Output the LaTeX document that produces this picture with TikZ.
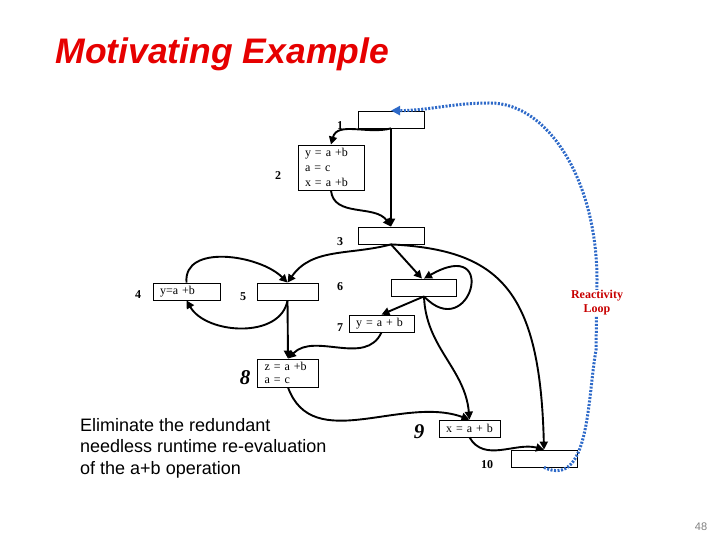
\documentclass[tikz,border=0pt]{standalone}
\usepackage{fontspec}
\setmainfont{Liberation Serif}
\setsansfont{Liberation Sans}
\usetikzlibrary{arrows.meta}
\definecolor{titlered}{RGB}{230,0,0}
\definecolor{loopblue}{RGB}{45,105,200}
\definecolor{loopred}{RGB}{200,0,0}

\begin{document}
\begin{tikzpicture}[x=1pt, y=1pt,
	box/.style={draw, line width=0.8pt, fill=white, minimum height=17pt, inner xsep=7pt, inner ysep=1pt, align=left, font=\fontsize{12}{15}\selectfont},
	num/.style={font=\fontsize{12}{14}\selectfont\bfseries},
	bignum/.style={font=\fontsize{21}{21}\selectfont\bfseries\itshape},
	flow/.style={line width=1.9pt, -{Triangle[length=8pt,width=8pt]}},
	react/.style={draw=loopblue, line width=3pt, dash pattern=on 2pt off 1.5pt, -{Triangle[length=9pt,width=9pt]}}]
	\useasboundingbox (0,0) rectangle (720,540);

	% Titolo e testo
	\node (title) at (52,486) [anchor=west, text=titlered, font=\sffamily\bfseries\itshape\fontsize{35.5}{36}\selectfont] {Motivating Example};
	\node (note) at (80,122) [anchor=north west, inner sep=0pt, align=left, font=\sffamily\fontsize{18}{21.5}\selectfont] {Eliminate the redundant\\needless runtime re-evaluation\\of the a+b operation};
	\node (page) at (701,13) [text=gray, font=\sffamily\fontsize{11}{11}\selectfont] {48};

	% Blocchi
	\node (b1) at (391,420.5) [box, minimum width=66pt] {};
	\node (b2) at (331,372.5) [box, text width=52pt, minimum height=45pt] {y = a +b\\a = c\\x = a +b};
	\node (b3) at (391,304.5) [box, minimum width=66pt] {};
	\node (b4) at (186.5,248.5) [box, text width=53pt] {y=a +b};
	\node (b5) at (287.5,248.5) [box, minimum width=61pt] {};
	\node (b6) at (424,252.5) [box, minimum width=65pt] {};
	\node (b7) at (381.5,216.5) [box, text width=51pt] {y = a + b};
	\node (b8) at (288,167) [box, text width=47pt, minimum height=28pt, font=\fontsize{12}{13}\selectfont] {z = a +b\\a = c};
	\node (b9) at (469.5,111.5) [box, text width=47pt, align=center] {x = a + b};
	\node (b10) at (544,81.5) [box, minimum width=66pt] {};

	% Numeri
	\node (l1) at (340,414) [num] {1};
	\node (l2) at (278,364) [num] {2};
	\node (l3) at (340,298) [num] {3};
	\node (l4) at (138,245) [num] {4};
	\node (l5) at (243,243) [num] {5};
	\node (l6) at (340,253) [num] {6};
	\node (l7) at (340,212) [num] {7};
	\node (l8) at (245,162) [bignum] {8};
	\node (l9) at (419,108) [bignum] {9};
	\node (l10) at (487,75) [num] {10};

	% Archi
	\draw[flow] (b1.south) to[out=195,in=75] (b2.north);
	\draw[flow] (b1.south) -- (b3.north);
	\draw[flow] (b2.south) to[out=-85,in=125] (b3.north);
	\draw[flow] (b3.south) to[out=195,in=55] (b5.north);
	\draw[flow] (b3.south) -- ([xshift=-2pt]b6.north);
	\draw[flow] (b3.south) .. controls (500,290) and (540,250) .. (b10.north);
	\draw[flow] (b6.south) .. controls (470,195) and (500,305) .. (b6.north);
	\draw[flow] (b6.south) -- (b7.north);
	\draw[flow] (b6.south) to[out=-88,in=95] (b9.north);
	\draw[flow] (b7.south) to[out=-115,in=45] (b8.north);
	\draw[flow] (b4.north) to[out=95,in=135] (b5.north);
	\draw[flow] (b5.south) to[out=-100,in=-60] (b4.south);
	\draw[flow] (b5.south) -- (b8.north);
	\draw[flow] (b8.south) to[out=-70,in=160] (b9.north);
	\draw[flow] (b9.south) to[out=-60,in=165] (b10.north);

	% Ciclo di reattivita
	\draw[react] (b10.south) to[out=-25,in=-100] (596,190) -- (597,260)
		arc[start angle=0, end angle=90, x radius=107, y radius=177] to[out=180,in=0] (b1.north);
	\node (loop) at (597,237) [fill=white, inner sep=1pt, align=center, text=loopred, font=\fontsize{12}{14}\selectfont\bfseries] {Reactivity\\Loop};
\end{tikzpicture}
\end{document}
